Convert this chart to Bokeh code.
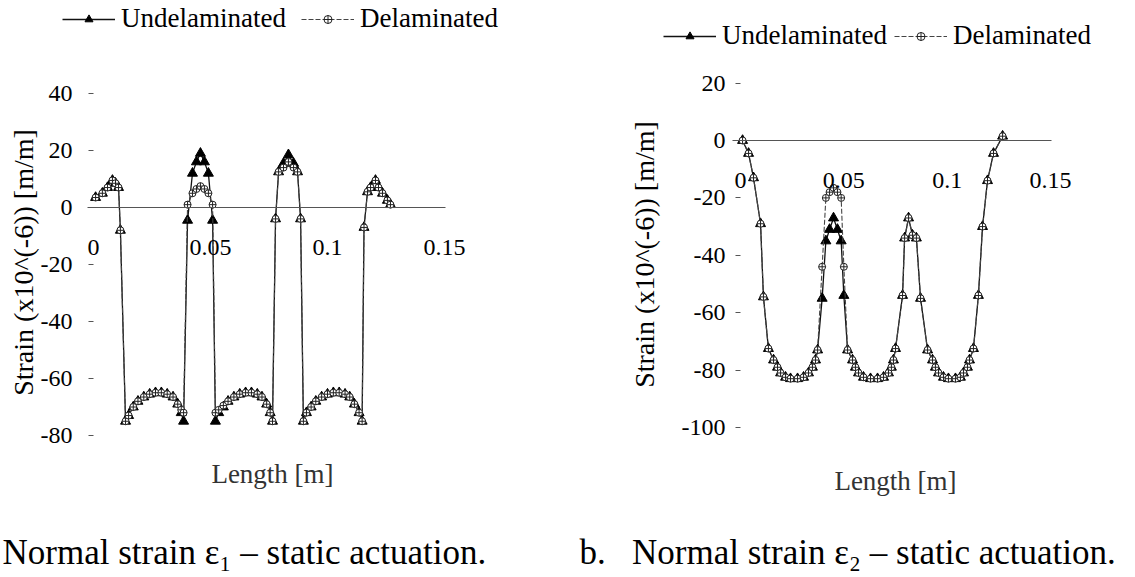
import math
from bokeh.plotting import figure
from bokeh.models import (Range1d, LinearAxis, FixedTicker, CustomJSTickFormatter,
                          Legend, LegendItem, Label)
from bokeh.layouts import row
from bokeh.embed import file_html
from bokeh.resources import INLINE

# ---------------- data: (a) normal strain eps1 ----------------
x_a = [0.0009, 0.0038, 0.0060, 0.0081, 0.0094, 0.0107, 0.0115,
       0.0137, 0.0150, 0.0170, 0.0190, 0.0215, 0.0240, 0.0265, 0.0290, 0.0315, 0.0340, 0.0360, 0.0375, 0.0385,
       0.0402, 0.0423, 0.0440, 0.0457, 0.0474, 0.0491, 0.0509,
       0.0521, 0.0535, 0.0555, 0.0575, 0.0600, 0.0625, 0.0650, 0.0675, 0.0700, 0.0720, 0.0740, 0.0755, 0.0765,
       0.0778, 0.0791, 0.0812, 0.0833, 0.0855, 0.0872, 0.0885,
       0.0897, 0.0910, 0.0930, 0.0950, 0.0975, 0.1000, 0.1025, 0.1050, 0.1075, 0.1095, 0.1115, 0.1135, 0.1148,
       0.1156, 0.1171, 0.1184, 0.1205, 0.1218, 0.1235, 0.1256, 0.1269]
und_a = [3.5, 5, 7, 9.5, 8.5, 7, -8,
         -75, -73, -70, -68, -66.5, -65.5, -65, -65, -65.5, -66.5, -69, -72, -75,
         -4.5, 12, 16, 19, 16, 12, -4.5,
         -75, -72, -70, -68, -66.5, -65.5, -65, -65, -65.5, -66.5, -69, -72, -75,
         -4, 12.5, 15.5, 18.5, 15.5, 12.5, -4,
         -75, -72, -70, -68, -66.5, -65.5, -65, -65, -65.5, -66.5, -69, -72, -75,
         -7, 5.5, 7, 9.5, 7, 5, 2.5, 1]
del_a = [3.5, 5, 7, 9.5, 8.5, 7, -8,
         -75, -73, -70, -68, -66.5, -65.5, -65, -65, -65.5, -66.5, -69, -71, -72,
         1, 5, 6.5, 7.5, 6.5, 5, 1,
         -72, -71, -69.5, -68, -66.5, -65.5, -65, -65, -65.5, -66.5, -69, -72, -75,
         -4, 12.5, 14, 16, 14, 12.5, -4,
         -75, -72, -70, -68, -66.5, -65.5, -65, -65, -65.5, -66.5, -69, -72, -75,
         -7, 5.5, 7, 9.5, 7, 5, 2.5, 1]

# ---------------- data: (b) normal strain eps2 ----------------
x_b = [0.0010, 0.0039, 0.0063, 0.0097, 0.0111, 0.0135, 0.0160, 0.0179, 0.0194, 0.0218, 0.0242, 0.0276,
       0.0305, 0.0329, 0.0348, 0.0363, 0.0373,
       0.0395, 0.0413, 0.0431, 0.0450, 0.0469, 0.0487, 0.0500,
       0.0518, 0.0542, 0.0556, 0.0571, 0.0595, 0.0629, 0.0663, 0.0692, 0.0716, 0.0730, 0.0740, 0.0750,
       0.0784, 0.0794, 0.0813, 0.0832, 0.0851, 0.0871,
       0.0905, 0.0929, 0.0943, 0.0958, 0.0982, 0.1006, 0.1040, 0.1064, 0.1079, 0.1098, 0.1108, 0.1127,
       0.1151, 0.1171, 0.1195, 0.1224, 0.1268]
und_b = [0, -4.5, -13, -29, -54.5, -72.5, -76.5, -79, -81, -82.5, -83, -83, -82.5, -81, -79, -76.5, -73,
         -55, -35, -31, -27, -31, -35, -54,
         -73, -76.5, -79, -81, -82.5, -83, -83, -82.5, -81, -79, -76.5, -72.5,
         -54, -34, -27, -33, -34, -55,
         -73, -76.5, -79, -81, -82.5, -83, -83, -82.5, -81, -79, -76.5, -72.5,
         -54, -30, -14, -4.5, 1.5]
del_b = [0, -4.5, -13, -29, -54.5, -72.5, -76.5, -79, -81, -82.5, -83, -83, -82.5, -81, -79, -76.5, -73,
         -44, -20, -18, -16.5, -18, -20, -44,
         -73, -76.5, -79, -81, -82.5, -83, -83, -82.5, -81, -79, -76.5, -72.5,
         -54, -34, -27, -33, -34, -55,
         -73, -76.5, -79, -81, -82.5, -83, -83, -82.5, -81, -79, -76.5, -72.5,
         -54, -30, -14, -4.5, 1.5]

yticks_a = [-80, -60, -40, -20, 0, 20, 40]
yticks_b = [-100, -80, -60, -40, -20, 0, 20]
xticks = [0, 0.05, 0.1, 0.15]
series_names = ["Undelaminated", "Delaminated"]
y_title = "Strain (x10^(-6)) [m/m]"
x_title = "Length [m]"
caption_a = "Normal strain \u03b5\u2081 \u2013 static actuation."
caption_b = "b.\u2002\u00a0Normal strain \u03b5\u2082 \u2013 static actuation."

SERIF = "Liberation Serif"
H = 577


def make_panel(width, xr, yr, xbounds, xs, und, dele, yticks, y_std,
               ytitle_pos, xtitle_pos, legend_loc, legend_spacing, caption, cap_pos):
    p = figure(width=width, height=H, x_range=Range1d(*xr), y_range=Range1d(*yr),
               x_axis_location=None, y_axis_location=None,
               output_backend="svg", toolbar_location=None,
               min_border=0, min_border_left=0, min_border_right=0,
               min_border_top=0, min_border_bottom=0,
               outline_line_color=None, background_fill_color="white", border_fill_color="white")
    p.grid.visible = False

    yax = LinearAxis(fixed_location=0, ticker=FixedTicker(ticks=yticks),
                     formatter=CustomJSTickFormatter(code="return String(Math.round(tick))"),
                     axis_line_color=None, major_tick_out=5, major_tick_in=0,
                     minor_tick_out=0, minor_tick_in=0, major_tick_line_color="#555",
                     major_label_standoff=y_std,
                     major_label_text_font=SERIF, major_label_text_font_size="24px",
                     major_label_text_color="black")
    p.add_layout(yax, "left")

    xax = LinearAxis(fixed_location=0, bounds=xbounds, ticker=FixedTicker(ticks=xticks),
                     formatter=CustomJSTickFormatter(code="return String(Math.round(tick*100)/100)"),
                     axis_line_color="#555", axis_line_width=1,
                     major_tick_out=0, major_tick_in=0, minor_tick_out=0, minor_tick_in=0,
                     major_label_standoff=32,
                     major_label_text_font=SERIF, major_label_text_font_size="24px",
                     major_label_text_color="black")
    p.add_layout(xax, "below")

    ul = p.line(xs, und, line_color="#111", line_width=1.3)
    us = p.scatter(xs, und, marker="triangle", size=10, fill_color="black", line_color="black")
    dl = p.line(xs, dele, line_color="#444", line_width=1.1, line_dash="5 2")
    ds = p.scatter(xs, dele, marker="circle_cross", size=7, fill_color="white",
                   line_color="#222", line_width=1)

    legend = Legend(items=[LegendItem(label=series_names[0], renderers=[ul, us]),
                           LegendItem(label=series_names[1], renderers=[dl, ds])],
                    orientation="horizontal", location=legend_loc,
                    border_line_color=None, background_fill_alpha=0,
                    padding=0, margin=0, spacing=legend_spacing, label_standoff=6,
                    glyph_width=53, glyph_height=20,
                    label_text_font=SERIF, label_text_font_size="27px",
                    label_text_color="black")
    p.add_layout(legend, "center")

    p.add_layout(Label(x=ytitle_pos[0], y=ytitle_pos[1], x_units="screen", y_units="screen",
                       text=y_title, angle=math.pi / 2, text_font=SERIF, text_font_size="28px",
                       text_color="black", text_align="center", text_baseline="middle"))
    p.add_layout(Label(x=xtitle_pos[0], y=xtitle_pos[1], x_units="screen", y_units="screen",
                       text=x_title, text_font=SERIF, text_font_size="27px",
                       text_color="#333", text_align="center", text_baseline="middle"))
    p.add_layout(Label(x=cap_pos[0], y=cap_pos[1], x_units="screen", y_units="screen",
                       text=caption, text_font=SERIF, text_font_size="35px",
                       text_color="black", text_baseline="middle", text_align="left"))
    return p


# left panel: x=0 at px 93 (2340 px per m), y=0 at px 207 (2.85 px per unit)
p1 = make_panel(567, (-0.03974, 0.20256), (-129.82, 72.63), (-0.0026, 0.1505),
                x_a, und_a, del_a, yticks_a, 16,
                (23, 315), (272, 104), (62, 543), 15, caption_a, (2, 25))
# right panel: x=0 at local px 173 (2067 px per m), y=0 at px 140 (2.87 px per unit)
p2 = make_panel(568, (-0.0837, 0.1911), (-152.26, 48.78), (-0.0039, 0.1505),
                x_b, und_b, del_b, yticks_b, 10,
                (77, 323), (328, 97), (96, 526), 7, caption_b, (12, 25))

layout = row(p1, p2)
open("out.html", "w").write(file_html(layout, INLINE))
